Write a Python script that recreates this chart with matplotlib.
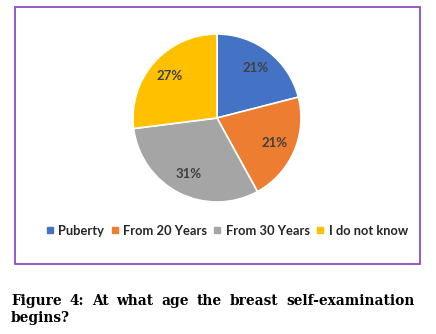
import matplotlib.pyplot as plt
from matplotlib.patches import Rectangle
from matplotlib.lines import Line2D

# datos del gráfico
labels = ['Puberty', 'From 20 Years', 'From 30 Years', 'I do not know']
values = [21, 21, 31, 27]
colors = ['#4472C4', '#ED7D31', '#A5A5A5', '#FFC000']
caption_line1 = ['Figure', '4:', 'At', 'what', 'age', 'the', 'breast', 'self-examination']
caption_line2 = 'begins?'

W, H = 436, 334
fig = plt.figure(figsize=(W / 100, H / 100), dpi=100)

# marco morado del gráfico
fig.patches.append(Rectangle((15 / W, 1 - 264 / H), 405 / W, 257 / H, transform=fig.transFigure,
                             fill=False, edgecolor='#8E4CC4', linewidth=1.3))

# pastel
ax = fig.add_axes([(217 - 84) / W, 1 - (118 + 84) / H, 168 / W, 168 / H])
wedges, texts, autotexts = ax.pie(values, colors=colors, startangle=90, counterclock=False,
                                  autopct='%1.0f%%', pctdistance=0.75,
                                  wedgeprops=dict(edgecolor='white', linewidth=1.2),
                                  textprops=dict(color='#404040', fontsize=9.5, fontweight='bold',
                                                 family='Lato'))
ax.set_xlim(-1, 1)
ax.set_ylim(-1, 1)
ax.set_aspect('equal')

# leyenda
handles = [Line2D([], [], marker='s', linestyle='', markersize=4.5, markerfacecolor=c, markeredgecolor=c)
           for c in colors]
fig.legend(handles, labels, loc='center', bbox_to_anchor=(227 / W, 1 - 231 / H), ncol=4,
           frameon=False, handlelength=0.6, handletextpad=0.35, columnspacing=0.5,
           prop=dict(family='Lato', weight='bold', size=9.3), labelcolor='#262626')

# pie de figura justificado
fig.canvas.draw()
renderer = fig.canvas.get_renderer()
cap_font = dict(family='DejaVu Serif', stretch='condensed', weight='bold', size=11, color='black')
x_left, x_right = 11, 415
y1, y2 = 1 - 305 / H, 1 - 322 / H
widths = []
for w in caption_line1:
    t = fig.text(0, 0, w, **cap_font)
    widths.append(t.get_window_extent(renderer).width)
    t.remove()
gap = (x_right - x_left - sum(widths)) / (len(caption_line1) - 1)
x = x_left
for w, wd in zip(caption_line1, widths):
    fig.text(x / W, y1, w, va='baseline', **cap_font)
    x += wd + gap
fig.text(x_left / W, y2, caption_line2, va='baseline', **cap_font)

fig.savefig('out.png', dpi=100)
